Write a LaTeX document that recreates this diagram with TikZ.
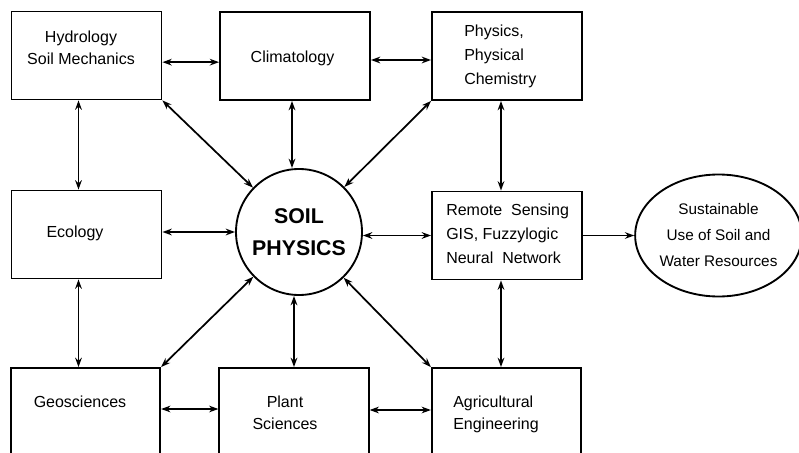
\documentclass[tikz,border=0pt]{standalone}
\usepackage{fontspec}
\setmainfont{Liberation Sans}
\usetikzlibrary{arrows.meta,shapes.geometric}
\begin{document}
\begin{tikzpicture}[x=0.75pt,y=-0.75pt,
  box/.style={draw, line width=1.4pt, minimum width=112.5pt, minimum height=66pt, inner sep=0pt},
  lowbox/.style={box, minimum width=112pt, minimum height=75pt},
  txt/.style={font=\fontsize{12}{16.5}\selectfont, align=center, inner sep=0pt},
  arr/.style={{Stealth[length=7pt,width=5pt]}-{Stealth[length=7pt,width=5pt]}, line width=1.3pt},
  onearr/.style={-{Stealth[length=7pt,width=5pt]}, line width=1.3pt}]
\useasboundingbox (0,0) rectangle (799,453);
\clip (0,0) rectangle (799,453);
% boxes
\node[box] (hyd) at (86.5,55.5) {};
\node[box] (clim) at (295,56) {};
\node[box] (phy) at (507,56) {};
\node[box] (eco) at (86.5,234.5) {};
\node[box] (rs) at (507,235.5) {};
\node[lowbox] (geo) at (85.5,418) {};
\node[lowbox] (plant) at (294,418) {};
\node[lowbox] (agri) at (506.5,418) {};
\node[circle, draw, line width=1.4pt, minimum size=94.5pt, inner sep=0pt,
      font=\bfseries\fontsize{16}{24}\selectfont, align=center] (sp) at (299,232) {SOIL\\PHYSICS};
\node[ellipse, draw, line width=1.4pt, minimum width=117pt, minimum height=91.5pt, inner sep=0pt,
      font=\fontsize{11.5}{19.5}\selectfont, align=center] (ell) at (718.5,235.5) {Sustainable\\Use of Soil and\\Water Resources};
% texts
\node[txt] (hydt) at (81,48) {Hydrology\\Soil Mechanics};
\node[txt] (climt) at (292.5,58) {Climatology};
\node[txt, align=left, anchor=west, font=\fontsize{12}{18}\selectfont] (phyt) at (464,56) {Physics,\\Physical\\Chemistry};
\node[txt] (ecot) at (75,233) {Ecology};
\node[txt, align=left, anchor=west, font=\fontsize{12}{18}\selectfont] (rst) at (446,234) {Remote\ \ Sensing\\GIS, Fuzzylogic\\Neural\ \ Network};
\node[txt] (geot) at (80,402) {Geosciences};
\node[txt] (plantt) at (285,413) {Plant\\Sciences};
\node[txt, align=left, anchor=west] (agrit) at (453,414) {Agricultural\\Engineering};
% connectors
\draw[arr] ([yshift=-5pt]hyd.east) -- ([yshift=-5pt]hyd.east -| clim.west);
\draw[arr] ([yshift=-3pt]clim.east) -- ([yshift=-3pt]clim.east -| phy.west);
\draw[arr] ([xshift=-6pt]hyd.south) -- ([xshift=-6pt]hyd.south |- eco.north);
\draw[arr] ([xshift=-2.25pt]clim.south) -- ([xshift=-2.25pt]clim.south |- sp.north);
\draw[arr] ([xshift=-4.5pt]phy.south) -- ([xshift=-4.5pt]phy.south |- rs.north);
\draw[arr] (hyd.south east) -- (sp);
\draw[arr] (phy.south west) -- (sp);
\draw[arr] (eco.east |- sp.west) -- (sp.west);
\draw[arr] (rs.west) -- (rs.west -| sp.east);
\draw[onearr] (rs.east) -- (ell.west);
\draw[arr] ([xshift=-6pt]eco.south) -- ([xshift=-6pt]eco.south |- geo.north);
\draw[arr] (geo.north east) -- (sp);
\draw[arr] (plant.north) -- (plant.north |- sp.south);
\draw[arr] (agri.north west) -- (sp);
\draw[arr] ([xshift=-4.5pt]rs.south) -- ([xshift=-4.5pt]rs.south |- agri.north);
\draw[arr] (geo.east |- 0,409) -- (plant.west |- 0,409);
\draw[arr] (plant.east |- 0,410) -- (agri.west |- 0,410);
\end{tikzpicture}
\end{document}
